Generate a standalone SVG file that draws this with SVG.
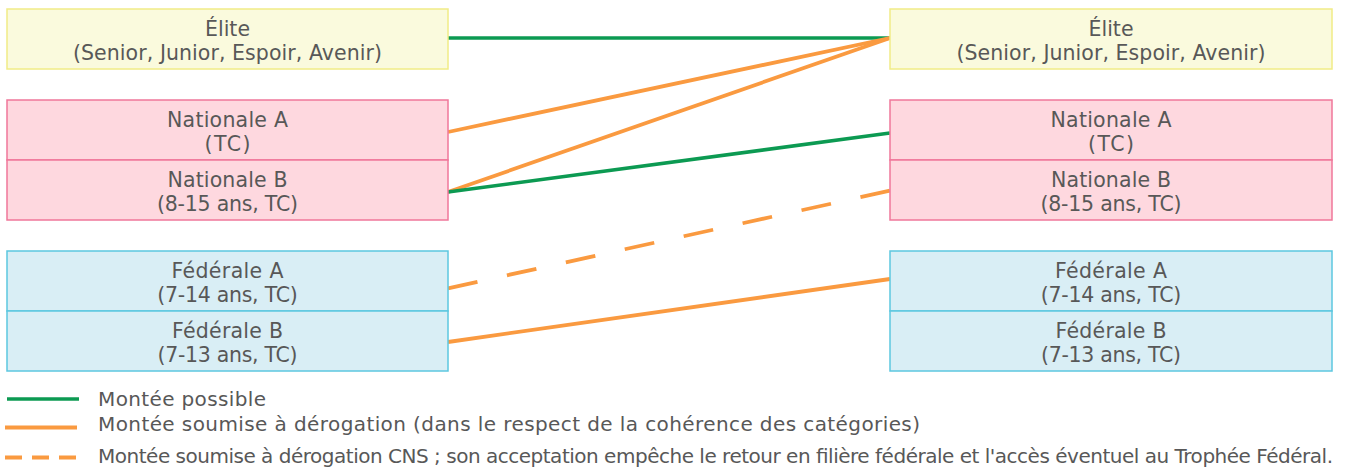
<svg xmlns="http://www.w3.org/2000/svg" width="1346" height="468" viewBox="0 0 1346 468">
<style>
text{font-family:"DejaVu Sans","Liberation Sans",sans-serif;font-size:20.5px;fill:#585858;}
.c{text-anchor:middle;}
.l{font-size:20px;}
.el{fill:#fafadd;stroke:#f1ec86;stroke-width:1.5;}
.na{fill:#fed8df;stroke:#f0779a;stroke-width:1.5;}
.fe{fill:#d9eef5;stroke:#5cc7e0;stroke-width:1.5;}
.g{stroke:#0c9a52;stroke-width:3.6;fill:none;}
.o{stroke:#fa9a40;stroke-width:3.8;fill:none;}
.d{stroke:#fa9a40;stroke-width:3.8;fill:none;stroke-dasharray:30.17,30.17;}
</style>
<rect width="1346" height="468" fill="#fff"/>
<g id="connectors">
<line class="g" x1="448" y1="38" x2="890" y2="38"/>
<line class="o" x1="448" y1="132" x2="890" y2="38"/>
<line class="o" x1="448" y1="192" x2="890" y2="38"/>
<line class="g" x1="448" y1="192" x2="890" y2="133"/>
<line class="d" x1="448" y1="288.3" x2="890" y2="190.7"/>
<line class="o" x1="448" y1="342" x2="890" y2="279"/>
</g>
<g id="left-elite"><rect class="el" x="7" y="9" width="441" height="60"/><text class="c" x="227.5" y="36" textLength="45" lengthAdjust="spacing">Élite</text><text class="c" x="227.5" y="60" textLength="309" lengthAdjust="spacing">(Senior, Junior, Espoir, Avenir)</text></g>
<g id="left-natA"><rect class="na" x="7" y="100" width="441" height="60"/><text class="c" x="227.5" y="127" textLength="121" lengthAdjust="spacing">Nationale A</text><text class="c" x="227.5" y="151" textLength="46" lengthAdjust="spacing">(TC)</text></g>
<g id="left-natB"><rect class="na" x="7" y="160" width="441" height="60"/><text class="c" x="227.5" y="187" textLength="120" lengthAdjust="spacing">Nationale B</text><text class="c" x="227.5" y="211" textLength="141" lengthAdjust="spacing">(8-15 ans, TC)</text></g>
<g id="left-fedA"><rect class="fe" x="7" y="251" width="441" height="60"/><text class="c" x="227.5" y="278" textLength="112" lengthAdjust="spacing">Fédérale A</text><text class="c" x="227.5" y="302" textLength="140.5" lengthAdjust="spacing">(7-14 ans, TC)</text></g>
<g id="left-fedB"><rect class="fe" x="7" y="311" width="441" height="60"/><text class="c" x="227.5" y="338" textLength="111" lengthAdjust="spacing">Fédérale B</text><text class="c" x="227.5" y="362" textLength="140" lengthAdjust="spacing">(7-13 ans, TC)</text></g>
<g id="right-elite"><rect class="el" x="890" y="9" width="442" height="60"/><text class="c" x="1111" y="36" textLength="45" lengthAdjust="spacing">Élite</text><text class="c" x="1111" y="60" textLength="309" lengthAdjust="spacing">(Senior, Junior, Espoir, Avenir)</text></g>
<g id="right-natA"><rect class="na" x="890" y="100" width="442" height="60"/><text class="c" x="1111" y="127" textLength="121" lengthAdjust="spacing">Nationale A</text><text class="c" x="1111" y="151" textLength="46" lengthAdjust="spacing">(TC)</text></g>
<g id="right-natB"><rect class="na" x="890" y="160" width="442" height="60"/><text class="c" x="1111" y="187" textLength="120" lengthAdjust="spacing">Nationale B</text><text class="c" x="1111" y="211" textLength="141" lengthAdjust="spacing">(8-15 ans, TC)</text></g>
<g id="right-fedA"><rect class="fe" x="890" y="251" width="442" height="60"/><text class="c" x="1111" y="278" textLength="112" lengthAdjust="spacing">Fédérale A</text><text class="c" x="1111" y="302" textLength="140.5" lengthAdjust="spacing">(7-14 ans, TC)</text></g>
<g id="right-fedB"><rect class="fe" x="890" y="311" width="442" height="60"/><text class="c" x="1111" y="338" textLength="111" lengthAdjust="spacing">Fédérale B</text><text class="c" x="1111" y="362" textLength="140" lengthAdjust="spacing">(7-13 ans, TC)</text></g>
<g id="legend">
<line class="g" x1="7" y1="399" x2="79" y2="399"/>
<line class="o" x1="5" y1="427.5" x2="77" y2="427.5"/>
<line class="o" x1="5" y1="457.5" x2="77" y2="457.5" style="stroke-dasharray:17,10"/>
<text class="l" x="98" y="406" textLength="168" lengthAdjust="spacing">Montée possible</text>
<text class="l" x="98" y="431" textLength="822" lengthAdjust="spacing">Montée soumise à dérogation (dans le respect de la cohérence des catégories)</text>
<text class="l" x="98" y="463" textLength="1235" lengthAdjust="spacing">Montée soumise à dérogation CNS ; son acceptation empêche le retour en filière fédérale et l'accès éventuel au Trophée Fédéral.</text>
</g>
</svg>
